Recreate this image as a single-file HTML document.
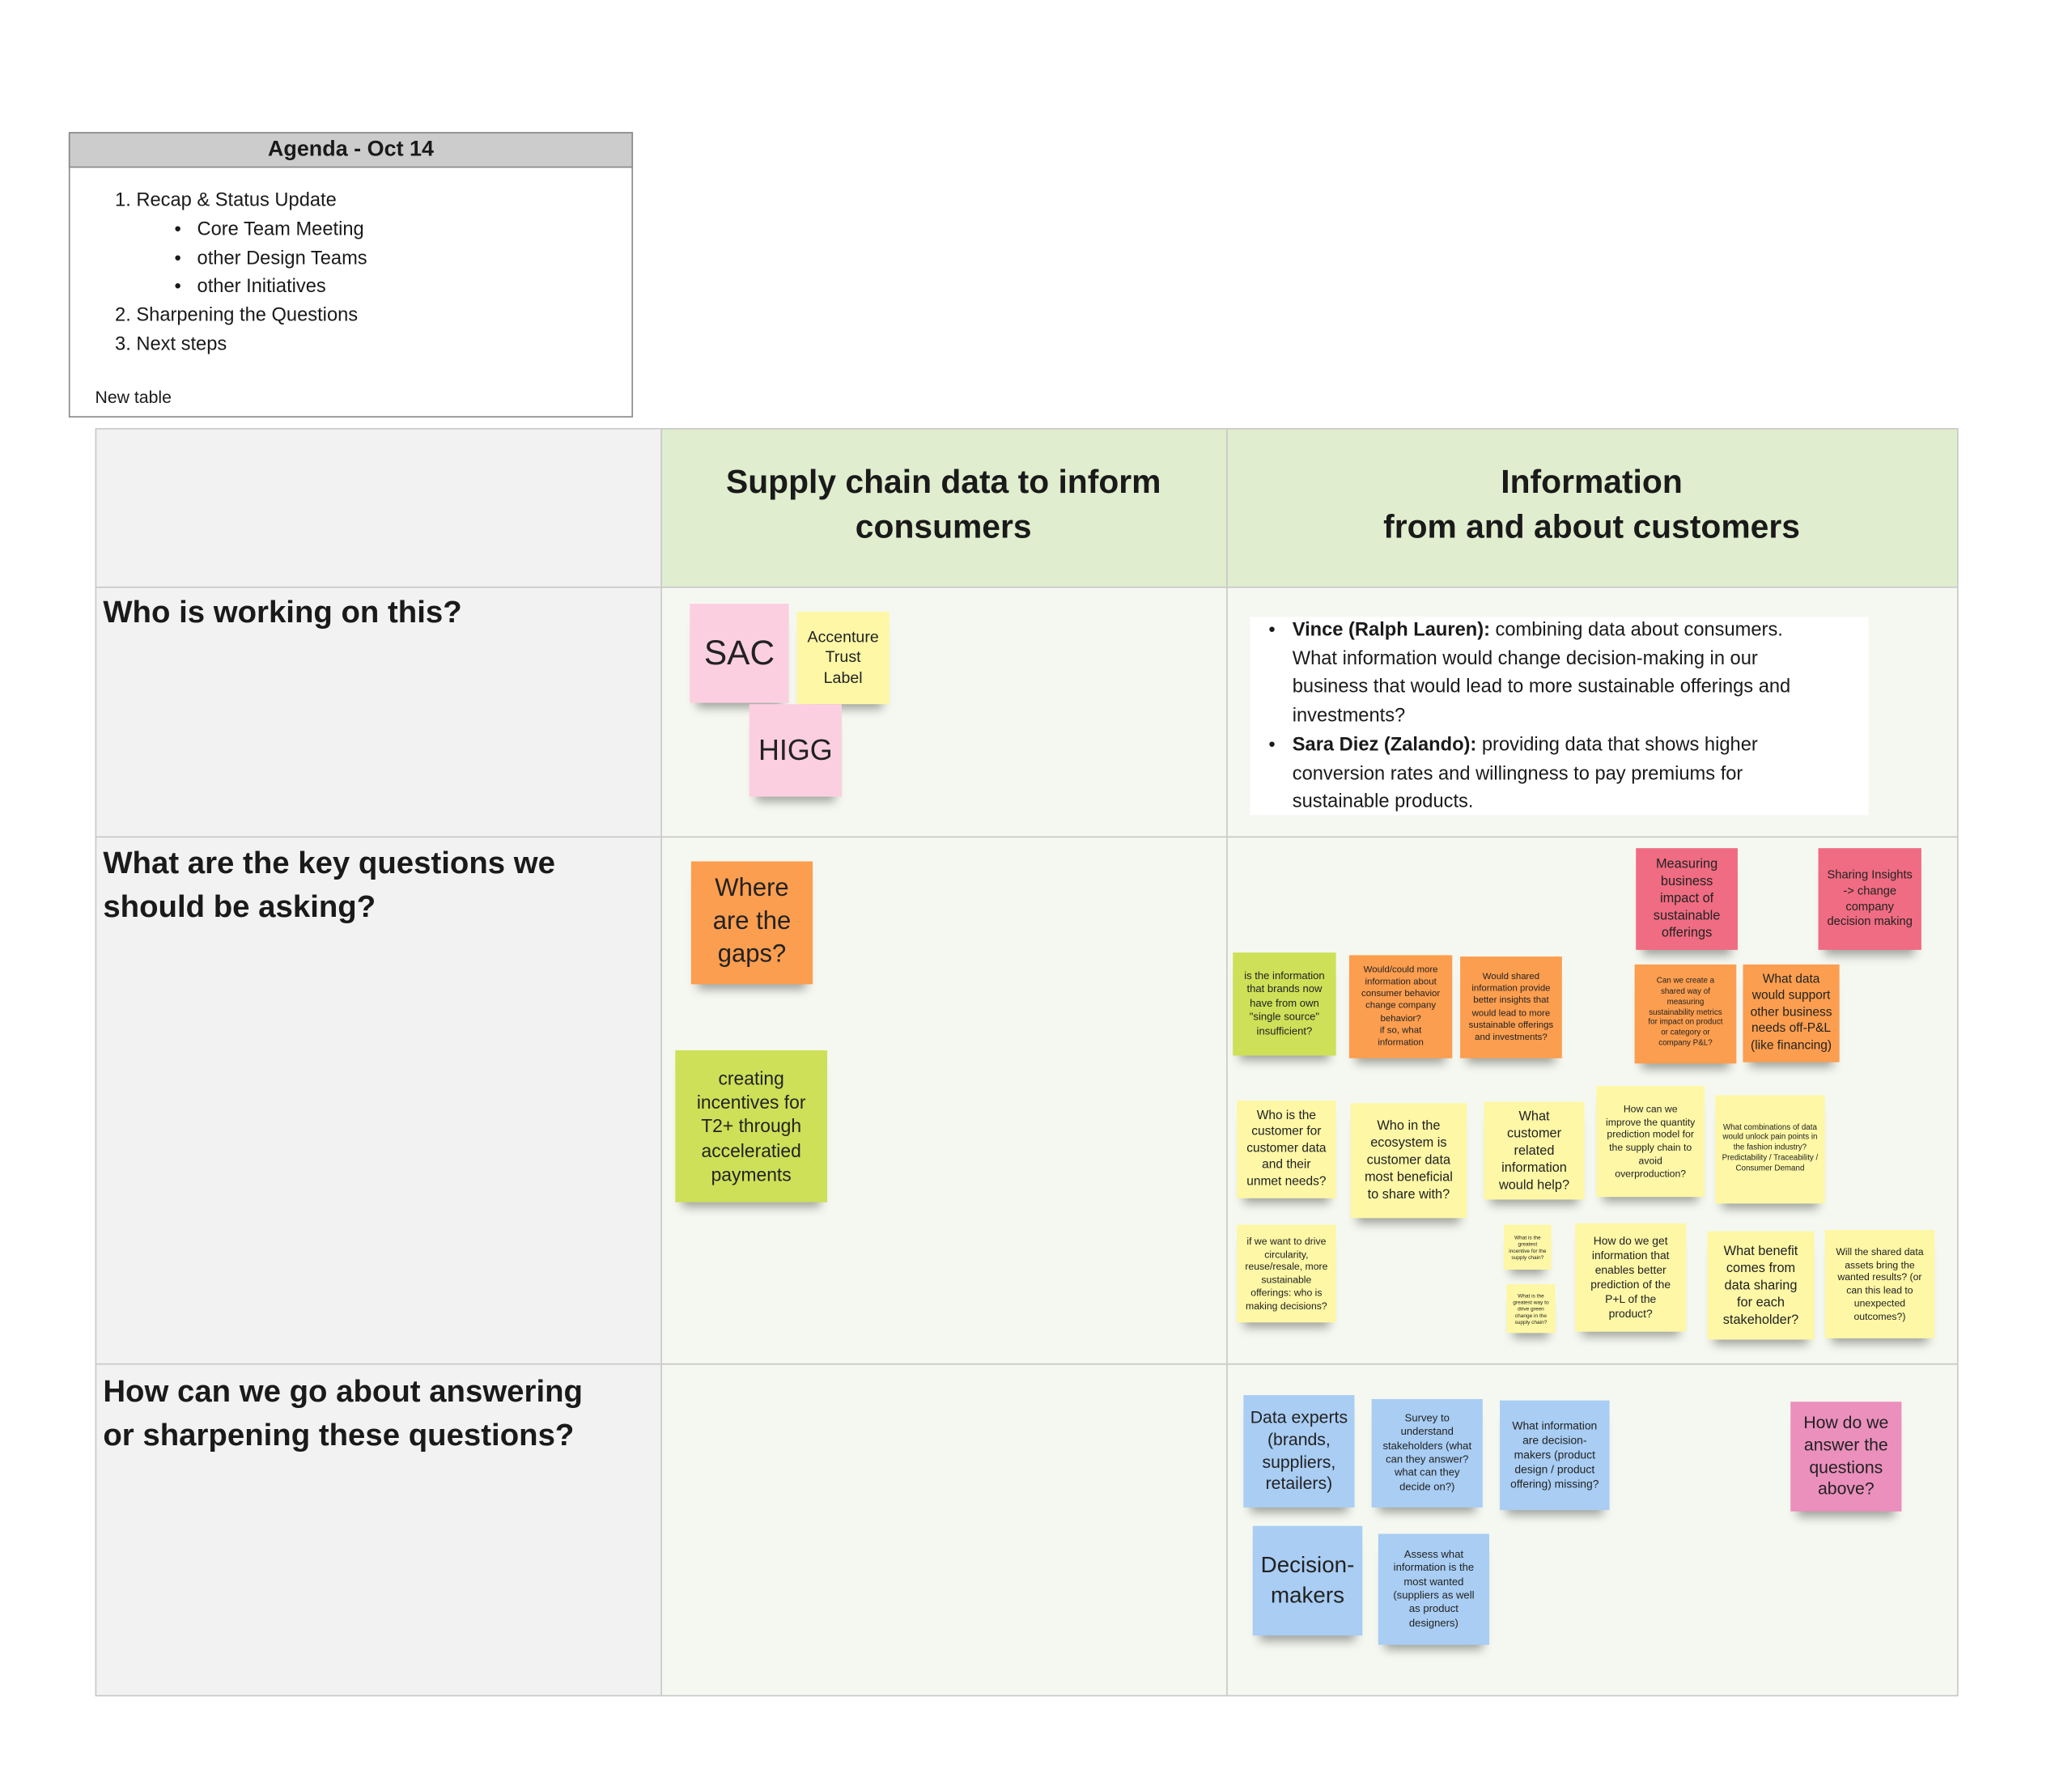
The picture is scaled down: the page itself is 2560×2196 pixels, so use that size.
<!DOCTYPE html>
<html><head><meta charset="utf-8">
<style>
html,body{margin:0;padding:0;background:#fff;width:2560px;height:2196px;overflow:hidden}
#c{position:absolute;left:0;top:0;width:1568px;height:1345px;transform:scale(1.632653);transform-origin:0 0;font-family:"Liberation Sans",sans-serif;color:#1a1a1a}
.a{position:absolute}
.cell{position:absolute;box-sizing:border-box;border:1px solid #c8c8c8}
.s{position:absolute;box-sizing:border-box;display:flex;align-items:center;justify-content:center;text-align:center;line-height:1.3;box-shadow:0 9px 7px -5px rgba(0,0,0,.35);padding:3px;color:#222}
.y{background:#fdf7a6}.p{background:#fccfe0}.o{background:#fc9e4f}.g{background:#cde058}.r{background:#ef6c82}.b{background:#a9cdf3}.pk{background:#eb8fbd}
.rl{position:absolute;left:78px;font-weight:bold;font-size:23.5px;line-height:33px}
</style></head><body><div id="c">
<!-- agenda -->
<div class="a" style="left:52px;top:100px;width:427px;height:216px;border:1px solid #888;box-sizing:border-box;background:#fff"></div>
<div class="a" style="left:52px;top:100px;width:427px;height:27px;background:#cccccc;border:1px solid #888;box-sizing:border-box;text-align:center;font-weight:bold;font-size:16.5px;line-height:25px">Agenda - Oct 14</div>
<div class="a" style="left:87px;top:142px;font-size:14.5px;line-height:21.8px">
1. Recap &amp; Status Update<br>
<span style="padding-left:45px">•&nbsp;&nbsp; Core Team Meeting</span><br>
<span style="padding-left:45px">•&nbsp;&nbsp; other Design Teams</span><br>
<span style="padding-left:45px">•&nbsp;&nbsp; other Initiatives</span><br>
2. Sharpening the Questions<br>
3. Next steps</div>
<div class="a" style="left:72px;top:293px;font-size:13px">New table</div>
<!-- table -->
<div class="cell" style="left:72px;top:324px;width:429px;height:121px;background:#f2f2f2"></div>
<div class="cell" style="left:500px;top:324px;width:429px;height:121px;background:#e0edce"></div>
<div class="cell" style="left:928px;top:324px;width:554px;height:121px;background:#e0edce"></div>
<div class="cell" style="left:72px;top:444px;width:429px;height:190px;background:#f2f2f2"></div>
<div class="cell" style="left:500px;top:444px;width:429px;height:190px;background:#f5f8f0"></div>
<div class="cell" style="left:928px;top:444px;width:554px;height:190px;background:#f5f8f0"></div>
<div class="cell" style="left:72px;top:633px;width:429px;height:400px;background:#f2f2f2"></div>
<div class="cell" style="left:500px;top:633px;width:429px;height:400px;background:#f5f8f0"></div>
<div class="cell" style="left:928px;top:633px;width:554px;height:400px;background:#f5f8f0"></div>
<div class="cell" style="left:72px;top:1032px;width:429px;height:252px;background:#f2f2f2"></div>
<div class="cell" style="left:500px;top:1032px;width:429px;height:252px;background:#f5f8f0"></div>
<div class="cell" style="left:928px;top:1032px;width:554px;height:252px;background:#f5f8f0"></div>
<div class="a" style="left:500px;top:348px;width:428px;text-align:center;font-weight:bold;font-size:25px;line-height:34px">Supply chain data to inform<br>consumers</div>
<div class="a" style="left:928px;top:348px;width:553px;text-align:center;font-weight:bold;font-size:25px;line-height:34px">Information<br>from and about customers</div>
<div class="rl" style="top:447px">Who is working on this?</div>
<div class="rl" style="top:637px">What are the key questions we<br>should be asking?</div>
<div class="rl" style="top:1037px">How can we go about answering<br>or sharpening these questions?</div>
<!-- row1 -->
<div class="s p" style="left:522px;top:457px;width:75px;height:75px;font-size:26px">SAC</div>
<div class="s y" style="left:603px;top:463px;width:70px;height:70px;font-size:12px">Accenture<br>Trust<br>Label</div>
<div class="s p" style="left:567px;top:533px;width:70px;height:70px;font-size:22px">HIGG</div>
<div class="a" style="left:946px;top:467px;width:468px;height:150px;background:#fff"></div>
<div class="a" style="left:960px;top:467px;width:460px;font-size:14.5px;line-height:21.7px;white-space:nowrap">
<div style="position:relative;padding-left:18px"><span style="position:absolute;left:0">•</span><b>Vince (Ralph Lauren):</b> combining data about consumers.<br>What information would change decision-making in our<br>business that would lead to more sustainable offerings and<br>investments?</div>
<div style="position:relative;padding-left:18px"><span style="position:absolute;left:0">•</span><b>Sara Diez (Zalando):</b> providing data that shows higher<br>conversion rates and willingness to pay premiums for<br>sustainable products.</div></div>
<!-- row2 col2 -->
<div class="s o" style="left:523px;top:652px;width:92px;height:93px;font-size:19px">Where<br>are the<br>gaps?</div>
<div class="s g" style="left:511px;top:795px;width:115px;height:115px;font-size:14px;padding:8px">creating incentives for T2+ through acceleratied payments</div>
<!-- row2 col3 -->
<div class="s r" style="left:1238px;top:642px;width:77px;height:77px;font-size:10px;padding:6px">Measuring business impact of sustainable offerings</div>
<div class="s r" style="left:1376px;top:642px;width:78px;height:77px;font-size:9px;padding:6px">Sharing Insights -&gt; change company decision making</div>
<div class="s g" style="left:933px;top:721px;width:78px;height:78px;font-size:8px;padding:5px">is the information that brands now have from own "single source" insufficient?</div>
<div class="s o" style="left:1021px;top:723px;width:78px;height:78px;font-size:7px;padding:6px">Would/could more information about consumer behavior change company behavior?<br>if so, what information</div>
<div class="s o" style="left:1105px;top:724px;width:77px;height:77px;font-size:7px;padding:6px">Would shared information provide better insights that would lead to more sustainable offerings and investments?</div>
<div class="s o" style="left:1237px;top:730px;width:77px;height:75px;font-size:6px;padding:7px">Can we create a shared way of measuring sustainability metrics for impact on product or category or company P&amp;L?</div>
<div class="s o" style="left:1319px;top:730px;width:73px;height:74px;font-size:9.5px">What data would support other business needs off-P&amp;L (like financing)</div>
<div class="s y" style="left:936px;top:833px;width:75px;height:74px;font-size:9.5px;padding:5px">Who is the customer for customer data and their unmet needs?</div>
<div class="s y" style="left:1022px;top:835px;width:88px;height:87px;font-size:10px;padding:6px">Who in the ecosystem is customer data most beneficial to share with?</div>
<div class="s y" style="left:1123px;top:834px;width:76px;height:74px;font-size:10px;padding:6px">What customer related information would help?</div>
<div class="s y" style="left:1208px;top:822px;width:82px;height:84px;font-size:7.5px;padding:7px">How can we improve the quantity prediction model for the supply chain to avoid overproduction?</div>
<div class="s y" style="left:1298px;top:829px;width:83px;height:82px;font-size:6px;padding:5px">What combinations of data would unlock pain points in the fashion industry?<br>Predictability / Traceability / Consumer Demand</div>
<div class="s y" style="left:936px;top:927px;width:75px;height:74px;font-size:7.5px;padding:4px">if we want to drive circularity, reuse/resale, more sustainable offerings: who is making decisions?</div>
<div class="s y" style="left:1138px;top:927px;width:36px;height:34px;font-size:4px">What is the greatest incentive for the supply chain?</div>
<div class="s y" style="left:1140px;top:972px;width:37px;height:37px;font-size:4px">What is the greatest way to drive green change in the supply chain?</div>
<div class="s y" style="left:1192px;top:926px;width:84px;height:82px;font-size:8.5px;padding:7px">How do we get information that enables better prediction of the P+L of the product?</div>
<div class="s y" style="left:1292px;top:932px;width:81px;height:82px;font-size:10px;padding:7px">What benefit comes from data sharing for each stakeholder?</div>
<div class="s y" style="left:1381px;top:931px;width:83px;height:82px;font-size:7.5px;padding:6px">Will the shared data assets bring the wanted results? (or can this lead to unexpected outcomes?)</div>
<!-- row3 -->
<div class="s b" style="left:941px;top:1056px;width:84px;height:85px;font-size:13px">Data experts (brands, suppliers, retailers)</div>
<div class="s b" style="left:1038px;top:1059px;width:84px;height:82px;font-size:8px;padding:7px">Survey to understand stakeholders (what can they answer? what can they decide on?)</div>
<div class="s b" style="left:1135px;top:1060px;width:83px;height:83px;font-size:8.5px;padding:6px">What information are decision-makers (product design / product offering) missing?</div>
<div class="s pk" style="left:1355px;top:1061px;width:84px;height:83px;font-size:13px;padding:6px">How do we answer the questions above?</div>
<div class="s b" style="left:948px;top:1155px;width:83px;height:83px;font-size:17px">Decision-makers</div>
<div class="s b" style="left:1043px;top:1161px;width:84px;height:84px;font-size:8px;padding:7px">Assess what information is the most wanted (suppliers as well as product designers)</div>
</div></body></html>
